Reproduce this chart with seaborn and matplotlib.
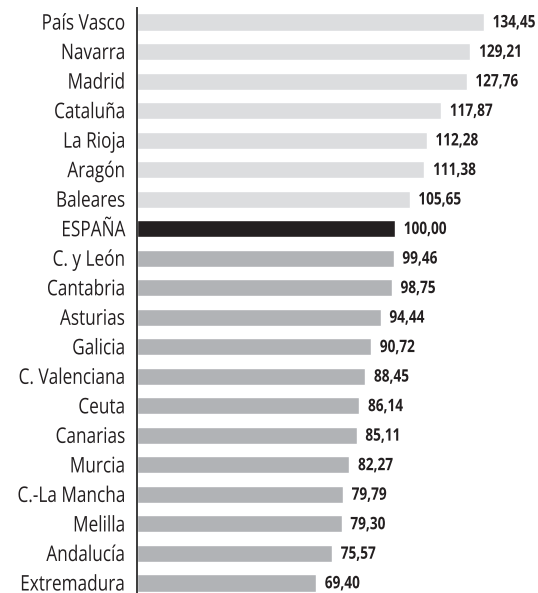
import matplotlib
matplotlib.use("Agg")
import matplotlib.pyplot as plt
import seaborn as sns
import pandas as pd
from matplotlib.patheffects import AbstractPathEffect
from matplotlib.transforms import Affine2D

regions = ["País Vasco", "Navarra", "Madrid", "Cataluña", "La Rioja", "Aragón",
           "Baleares", "ESPAÑA", "C. y León", "Cantabria", "Asturias", "Galicia",
           "C. Valenciana", "Ceuta", "Canarias", "Murcia", "C.-La Mancha",
           "Melilla", "Andalucía", "Extremadura"]
values = [134.45, 129.21, 127.76, 117.87, 112.28, 111.38, 105.65, 100.00, 99.46,
          98.75, 94.44, 90.72, 88.45, 86.14, 85.11, 82.27, 79.79, 79.30, 75.57, 69.40]
value_labels = ["134,45", "129,21", "127,76", "117,87", "112,28", "111,38", "105,65",
                "100,00", "99,46", "98,75", "94,44", "90,72", "88,45", "86,14",
                "85,11", "82,27", "79,79", "79,30", "75,57", "69,40"]

df = pd.DataFrame({"region": regions, "value": values})


def color_for(r, v):
    if r == "ESPAÑA":
        return "#231f20"
    return "#dcdddf" if v > 100 else "#b1b3b6"


palette = {r: color_for(r, v) for r, v in zip(regions, values)}


class Stretch(AbstractPathEffect):
    """Vertically stretch text glyphs about mid cap height (condensed look)."""

    def __init__(self, sy, ymid=36.0):
        super().__init__()
        self.sy = sy
        self.ymid = ymid

    def draw_path(self, renderer, gc, tpath, affine, rgbFace=None):
        t = Affine2D().translate(0, -self.ymid).scale(1, self.sy).translate(0, self.ymid)
        renderer.draw_path(gc, tpath, t + affine, rgbFace)


sns.set_style("white")
plt.rcParams["font.family"] = ["Open Sans", "DejaVu Sans"]

fig = plt.figure(figsize=(5.38, 5.93), dpi=100)
ax = fig.add_axes([137 / 538, 0.0, 400 / 538, 585 / 593])

sns.barplot(data=df, y="region", x="value", hue="region", palette=palette,
            order=regions, legend=False, width=0.58, saturation=1, ax=ax)

ax.set_xlim(0, 400 / 2.58)
ax.set_ylim(19.34, -0.475)
ax.set_xlabel("")
ax.set_ylabel("")
ax.set_xticks([])
ax.tick_params(axis="y", length=0, pad=8.5, labelsize=12.4, labelcolor="#231f20")
for lab in ax.get_yticklabels():
    lab.set_path_effects([Stretch(1.25)])
for s in ["top", "right", "bottom"]:
    ax.spines[s].set_visible(False)
ax.spines["left"].set_color("#3a3a3a")
ax.spines["left"].set_linewidth(1.4)

for i, (v, lab) in enumerate(zip(values, value_labels)):
    ax.text(v + 3.4, i, lab, va="center", ha="left", fontsize=9.8,
            fontweight="bold", color="#231f20",
            path_effects=[Stretch(1.266)])

fig.savefig("out.png", dpi=100)
